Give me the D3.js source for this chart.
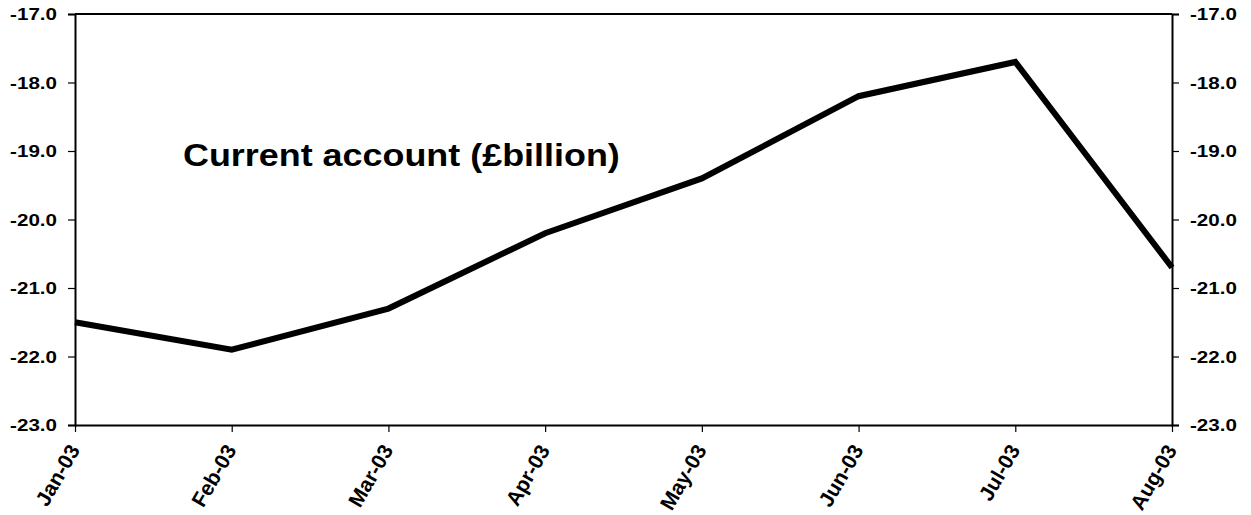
<!DOCTYPE html>
<html>
<head>
<meta charset="utf-8">
<script src="https://cdn.jsdelivr.net/npm/d3@7"></script>
<style>
  html, body { margin: 0; padding: 0; background: #fff; }
  svg { display: block; font-family: "Liberation Sans", Arial, sans-serif; }
  svg text { font-family: "Liberation Sans", Arial, sans-serif; font-weight: bold; fill: #000; }
</style>
</head>
<body>
<svg id="chart" width="1251" height="515"></svg>
<script>
// Monthly current account balance, £billion, 2003
const months = ["Jan-03", "Feb-03", "Mar-03", "Apr-03", "May-03", "Jun-03", "Jul-03", "Aug-03"];
const balance = [-21.5, -21.9, -21.3, -20.2, -19.4, -18.2, -17.7, -20.7];
const yTicks = [-23, -22, -21, -20, -19, -18, -17];
const chartTitle = "Current account (£billion)";

const svg = d3.select("#chart");
const plot = { left: 75, right: 1172, top: 14, bottom: 425 };
const stretch = 1.19;      // value labels are set a little wider than the plain face
const labelSize = 17.3;

const x = d3.scalePoint().domain(months).range([plot.left, plot.right]);
const y = d3.scaleLinear().domain([-23, -17]).range([plot.bottom, plot.top]);

// plain hyphen for negatives, one decimal
const fmt = v => d3.format(".1f")(v).replace("\u2212", "-");

// frame top line
svg.append("line")
  .attr("x1", plot.left).attr("x2", plot.right).attr("y1", plot.top).attr("y2", plot.top)
  .attr("stroke", "#000").attr("stroke-width", 2);

const yLeft = svg.append("g")
  .attr("transform", `translate(${plot.left},0)`)
  .call(d3.axisLeft(y).tickValues(yTicks).tickFormat(fmt).tickSize(7));
const yRight = svg.append("g")
  .attr("transform", `translate(${plot.right},0)`)
  .call(d3.axisRight(y).tickValues(yTicks).tickFormat(fmt).tickSize(7));
const xAxis = svg.append("g")
  .attr("transform", `translate(0,${plot.bottom})`)
  .call(d3.axisBottom(x).tickSize(7).tickSizeOuter(0));

[yLeft, yRight, xAxis].forEach(g => {
  g.attr("font-family", null).attr("font-size", null);
  g.select(".domain").attr("stroke", "#000").attr("stroke-width", 2);
  g.selectAll(".tick line").attr("stroke", "#000").attr("stroke-width", 1.2);
  g.selectAll("text")
    .attr("fill", "#000")
    .style("font-weight", "bold")
    .style("font-size", labelSize + "px");
});

yLeft.selectAll("text")
  .attr("x", 0)
  .attr("transform", `translate(-18,0) scale(${stretch},1)`);
yRight.selectAll("text")
  .attr("x", 0)
  .attr("transform", `translate(18,0) scale(${stretch},1)`);

// month labels, turned up to read bottom-left to top-right
xAxis.selectAll("text")
  .style("font-size", "21px")
  .attr("text-anchor", "end")
  .attr("dy", null)
  .attr("y", 0)
  .attr("transform", "translate(5,25) rotate(-60)");

// balance line
svg.append("path")
  .datum(balance)
  .attr("fill", "none")
  .attr("stroke", "#000")
  .attr("stroke-width", 6)
  .attr("stroke-linejoin", "miter")
  .attr("d", d3.line().x((d, i) => x(months[i])).y(d => y(d)));

svg.append("text")
  .attr("transform", "translate(183,166) scale(1.14,1)")
  .style("font-size", "31.5px")
  .text(chartTitle);
</script>
</body>
</html>
